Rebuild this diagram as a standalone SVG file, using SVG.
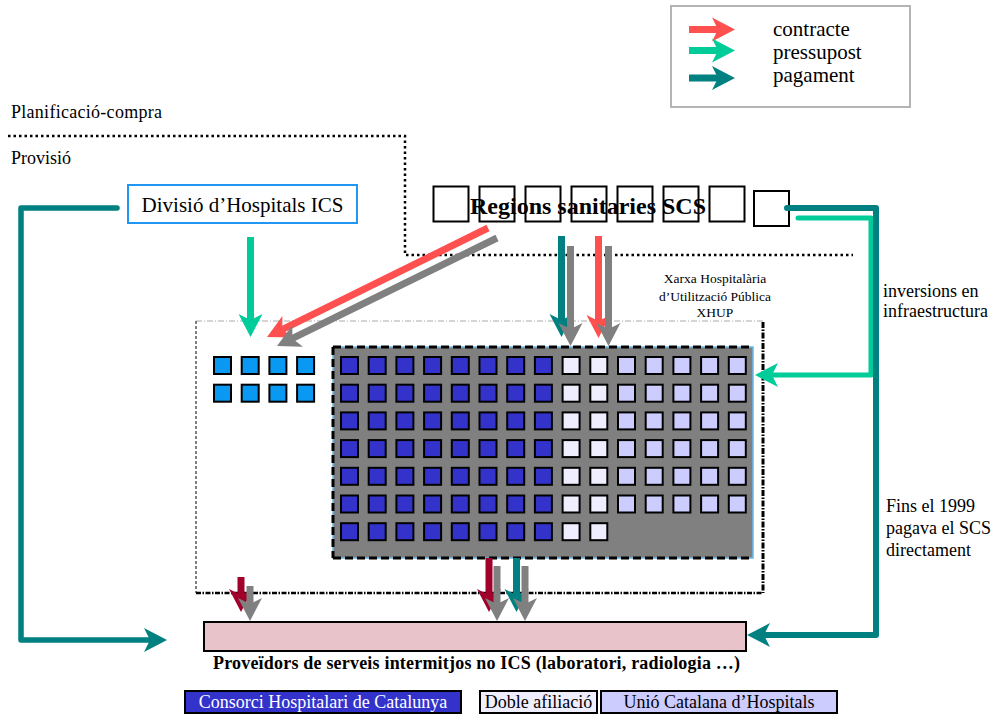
<svg xmlns="http://www.w3.org/2000/svg" xmlns:xlink="http://www.w3.org/1999/xlink" width="995" height="715" viewBox="0 0 995 715">
<style>
text{font-family:"Liberation Serif","Times New Roman",serif;fill:#000}
.b{font-weight:bold}
.sq{stroke:#000;stroke-width:2;width:17px;height:17px}
.ics{fill:#0a99f2}
.d{fill:#3333cc}
.w{fill:#eeeeff}
.l{fill:#ccccff}
.box{fill:#fff;stroke:#000;stroke-width:2}
.ar{fill:none;stroke-width:7}
.red{stroke:#ff5050}.grn{stroke:#00cc99}.tl{stroke:#008080}.gry{stroke:#808080}.drd{stroke:#a0002a}
</style>
<defs>
<marker id="mR" viewBox="-24 -13 25 26" markerWidth="25" markerHeight="26" refX="-15" refY="0" markerUnits="userSpaceOnUse" orient="auto"><path d="M0,0 L-23,-12 L-17,0 L-23,12 Z" fill="#ff5050"/></marker>
<marker id="mG" viewBox="-24 -13 25 26" markerWidth="25" markerHeight="26" refX="-15" refY="0" markerUnits="userSpaceOnUse" orient="auto"><path d="M0,0 L-23,-12 L-17,0 L-23,12 Z" fill="#00cc99"/></marker>
<marker id="mT" viewBox="-24 -13 25 26" markerWidth="25" markerHeight="26" refX="-15" refY="0" markerUnits="userSpaceOnUse" orient="auto"><path d="M0,0 L-23,-12 L-17,0 L-23,12 Z" fill="#008080"/></marker>
<marker id="mY" viewBox="-24 -13 25 26" markerWidth="25" markerHeight="26" refX="-15" refY="0" markerUnits="userSpaceOnUse" orient="auto"><path d="M0,0 L-23,-12 L-17,0 L-23,12 Z" fill="#808080"/></marker>
<marker id="mD" viewBox="-24 -13 25 26" markerWidth="25" markerHeight="26" refX="-15" refY="0" markerUnits="userSpaceOnUse" orient="auto"><path d="M0,0 L-23,-12 L-17,0 L-23,12 Z" fill="#a0002a"/></marker>
</defs>
<rect width="995" height="715" fill="#fff"/>

<!-- legend -->
<g id="legend">
<rect x="671" y="6" width="239" height="101" fill="#fff" stroke="#b4b4b4" stroke-width="2"/>
<line class="ar red" x1="689" y1="29.5" x2="720" y2="29.5" marker-end="url(#mR)"/>
<line class="ar grn" x1="689" y1="50.5" x2="720" y2="50.5" marker-end="url(#mG)"/>
<line class="ar tl" x1="689" y1="78" x2="720" y2="78" marker-end="url(#mT)"/>
<text x="773" y="36" font-size="21">contracte</text>
<text x="773" y="59" font-size="21">pressupost</text>
<text x="773" y="82" font-size="21">pagament</text>
</g>

<!-- planning / provision separation -->
<g id="separator">
<path d="M8 136 H405 V255 H853" fill="none" stroke="#000" stroke-width="2.5" stroke-dasharray="2.5 3"/>
<text x="11" y="118" font-size="18" textLength="151" lengthAdjust="spacing">Planificació-compra</text>
<text x="11" y="164" font-size="18">Provisió</text>
</g>

<!-- XHUP outer box -->
<g id="xhup">
<path d="M196 321 H763" fill="none" stroke="#aaa" stroke-width="1" stroke-dasharray="6 2 1 2"/>
<path d="M196 321 V593" fill="none" stroke="#000" stroke-width="1" stroke-dasharray="3 2"/>
<path d="M196 593 H763" fill="none" stroke="#000" stroke-width="2.5" stroke-dasharray="5 1.5 1.5 1.5"/>
<path d="M763 322 V593" fill="none" stroke="#000" stroke-width="3" stroke-dasharray="6 1.5 1.5 1.5"/>
<text x="715" y="283" font-size="13.5" text-anchor="middle">Xarxa Hospitalària</text>
<text x="715" y="301" font-size="13.5" text-anchor="middle">d’Utilització Pública</text>
<text x="715" y="317" font-size="13.5" text-anchor="middle">XHUP</text>
</g>

<!-- ICS hospitals -->
<g id="ics-hospitals">
<rect class="sq ics" x="214" y="357" width="17" height="17"/>
<rect class="sq ics" x="241.7" y="357" width="17" height="17"/>
<rect class="sq ics" x="269.4" y="357" width="17" height="17"/>
<rect class="sq ics" x="297.1" y="357" width="17" height="17"/>
<rect class="sq ics" x="214" y="384.7" width="17" height="17"/>
<rect class="sq ics" x="241.7" y="384.7" width="17" height="17"/>
<rect class="sq ics" x="269.4" y="384.7" width="17" height="17"/>
<rect class="sq ics" x="297.1" y="384.7" width="17" height="17"/>
</g>

<!-- other XHUP hospitals -->
<g id="xhup-hospitals">
<rect x="333" y="347" width="420" height="211" fill="#808080" stroke="#66bbee" stroke-width="1.5"/>
<path d="M333 347 H753 M333 347 V558 M333 558 H753" fill="none" stroke="#000" stroke-width="3" stroke-dasharray="8 4"/>
<g id="row0">
<rect class="sq d" x="341" y="357" width="17" height="17"/>
<rect class="sq d" x="368.7" y="357" width="17" height="17"/>
<rect class="sq d" x="396.4" y="357" width="17" height="17"/>
<rect class="sq d" x="424.1" y="357" width="17" height="17"/>
<rect class="sq d" x="451.8" y="357" width="17" height="17"/>
<rect class="sq d" x="479.5" y="357" width="17" height="17"/>
<rect class="sq d" x="507.2" y="357" width="17" height="17"/>
<rect class="sq d" x="534.9" y="357" width="17" height="17"/>
<rect class="sq w" x="562.6" y="357" width="17" height="17"/>
<rect class="sq w" x="590.3" y="357" width="17" height="17"/>
<rect class="sq l" x="618" y="357" width="17" height="17"/>
<rect class="sq l" x="645.7" y="357" width="17" height="17"/>
<rect class="sq l" x="673.4" y="357" width="17" height="17"/>
<rect class="sq l" x="701.1" y="357" width="17" height="17"/>
<rect class="sq l" x="728.8" y="357" width="17" height="17"/>
</g>
<use xlink:href="#row0" href="#row0" y="27.7"/>
<use xlink:href="#row0" href="#row0" y="55.4"/>
<use xlink:href="#row0" href="#row0" y="83.1"/>
<use xlink:href="#row0" href="#row0" y="110.8"/>
<use xlink:href="#row0" href="#row0" y="138.5"/>
<rect class="sq d" x="341" y="523.2" width="17" height="17"/>
<rect class="sq d" x="368.7" y="523.2" width="17" height="17"/>
<rect class="sq d" x="396.4" y="523.2" width="17" height="17"/>
<rect class="sq d" x="424.1" y="523.2" width="17" height="17"/>
<rect class="sq d" x="451.8" y="523.2" width="17" height="17"/>
<rect class="sq d" x="479.5" y="523.2" width="17" height="17"/>
<rect class="sq d" x="507.2" y="523.2" width="17" height="17"/>
<rect class="sq d" x="534.9" y="523.2" width="17" height="17"/>
<rect class="sq w" x="562.6" y="523.2" width="17" height="17"/>
<rect class="sq w" x="590.3" y="523.2" width="17" height="17"/>
</g>

<!-- Divisió d'Hospitals ICS -->
<g id="divisio-ics">
<rect x="128" y="185" width="229" height="38" fill="#fff" stroke="#2196f3" stroke-width="2"/>
<text x="242.5" y="212" font-size="21" text-anchor="middle">Divisió d’Hospitals ICS</text>
</g>

<!-- Regions sanitaries SCS -->
<g id="regions-scs">
<rect class="box" x="433.5" y="186.5" width="35" height="35"/>
<rect class="box" x="479.5" y="186.5" width="35" height="35"/>
<rect class="box" x="525.5" y="186.5" width="35" height="35"/>
<rect class="box" x="571.5" y="186.5" width="35" height="35"/>
<rect class="box" x="617.5" y="186.5" width="35" height="35"/>
<rect class="box" x="663.5" y="186.5" width="35" height="35"/>
<rect class="box" x="709.5" y="186.5" width="35" height="35"/>
<rect class="box" x="754" y="191" width="35" height="35"/>
<text class="b" x="470" y="214" font-size="24">Regions sanitaries SCS</text>
</g>

<!-- providers -->
<g id="proveidors">
<rect x="204" y="622" width="542" height="29" fill="#e8c3ca" stroke="#000" stroke-width="2"/>
<text class="b" x="213" y="669" font-size="18" textLength="527" lengthAdjust="spacing">Proveïdors de serveis intermitjos no ICS (laboratori, radiologia …)</text>
</g>

<!-- side labels -->
<g id="labels">
<text x="883" y="297" font-size="18">inversions en</text>
<text x="883" y="317" font-size="18">infraestructura</text>
<text x="886" y="512" font-size="18">Fins el 1999</text>
<text x="886" y="534" font-size="18">pagava el SCS</text>
<text x="886" y="556" font-size="18">directament</text>
</g>

<!-- bottom legend -->
<g id="legend-bottom">
<rect x="185" y="691" width="276" height="22" fill="#3333cc" stroke="#000" stroke-width="2"/>
<text x="323" y="708" font-size="18" text-anchor="middle" style="fill:#fff">Consorci Hospitalari de Catalunya</text>
<rect x="480" y="691" width="117" height="22" fill="#eeeeff" stroke="#000" stroke-width="2"/>
<text x="538.5" y="708" font-size="18" text-anchor="middle">Doble afiliació</text>
<rect x="601" y="691" width="236" height="22" fill="#ccccff" stroke="#000" stroke-width="2"/>
<text x="719" y="708" font-size="18" text-anchor="middle">Unió Catalana d’Hospitals</text>
</g>

<!-- connectors -->
<g id="connectors">
<path d="M117 208 H21 V640 H152" fill="none" stroke="#008080" stroke-width="5.5" stroke-linecap="round" stroke-linejoin="round" marker-end="url(#mT)"/>
<path d="M798 218 H871 V375 H770" fill="none" stroke="#00cc99" stroke-width="5" stroke-linecap="round" stroke-linejoin="round" marker-end="url(#mG)"/>
<path d="M787 208 H876 V635 H762" fill="none" stroke="#008080" stroke-width="6" stroke-linecap="round" stroke-linejoin="round" marker-end="url(#mT)"/>
<line class="ar grn" x1="250.5" y1="237" x2="250.5" y2="322" marker-end="url(#mG)"/>
<line class="ar red" x1="488" y1="228" x2="280.5" y2="330.4" marker-end="url(#mR)"/>
<line class="ar gry" x1="497" y1="238" x2="290.5" y2="339.4" marker-end="url(#mY)"/>
<line class="ar tl" x1="561.5" y1="236" x2="561.5" y2="322" marker-end="url(#mT)"/>
<line class="ar gry" x1="570.5" y1="246" x2="570.5" y2="331" marker-end="url(#mY)"/>
<line class="ar red" x1="598.5" y1="236" x2="598.5" y2="323" marker-end="url(#mR)"/>
<line class="ar gry" x1="608.5" y1="246" x2="608.5" y2="331" marker-end="url(#mY)"/>
<line class="ar drd" x1="241" y1="577" x2="241" y2="597" marker-end="url(#mD)"/>
<line class="ar gry" x1="250" y1="586" x2="250" y2="606" marker-end="url(#mY)"/>
<line class="ar drd" x1="489" y1="558" x2="489" y2="597" marker-end="url(#mD)"/>
<line class="ar gry" x1="497" y1="566" x2="497" y2="606" marker-end="url(#mY)"/>
<line class="ar tl" x1="516.5" y1="558" x2="516.5" y2="597" marker-end="url(#mT)"/>
<line class="ar gry" x1="525" y1="566" x2="525" y2="606" marker-end="url(#mY)"/>
</g>
</svg>
